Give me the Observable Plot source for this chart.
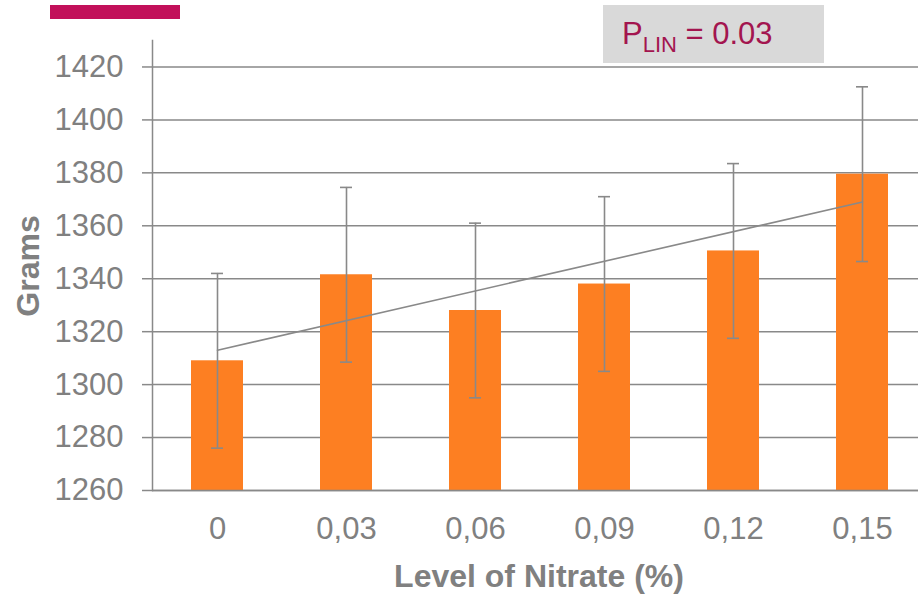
<!DOCTYPE html>
<html>
<head>
<meta charset="utf-8">
<script src="https://cdn.jsdelivr.net/npm/d3@7"></script>
<script src="https://cdn.jsdelivr.net/npm/@observablehq/plot@0.6"></script>
<style>
  html, body { margin: 0; padding: 0; background: #fff; }
  #wrap { position: relative; width: 918px; height: 594px; font-family: "Liberation Sans", Arial, sans-serif; overflow: hidden; }
  #chart { position: absolute; left: 0; top: 0; width: 926px; }
  #chart svg { max-width: none !important; }
  #accent { position: absolute; left: 50px; top: 5px; width: 130px; height: 14px; background: #c2105a; }
  #plin { position: absolute; left: 603px; top: 5px; width: 221px; height: 58px; background: #d9d9d9; color: #a3154f; font-size: 31px; line-height: 58px; box-sizing: border-box; padding-left: 19px; }
  #plin sub { font-size: 22px; vertical-align: -8px; line-height: 0; }
  .lab { position: absolute; color: #808080; font-weight: bold; font-size: 32px; white-space: nowrap; }
  #xlab { left: 0; width: 1078px; top: 558px; text-align: center; }
  #ylab { left: 28px; top: 266px; transform: translate(-50%, -50%) rotate(-90deg); }
</style>
</head>
<body>
<div id="wrap">
  <div id="chart"></div>
  <div id="accent"></div>
  <div id="plin">P<sub>LIN</sub> = 0.03</div>
  <div class="lab" id="ylab">Grams</div>
  <div class="lab" id="xlab">Level of Nitrate (%)</div>
</div>
<script>
const levels = ["0", "0,03", "0,06", "0,09", "0,12", "0,15"];
const grams = [1309, 1341.5, 1328, 1338, 1350.5, 1379.5];
const errors = [33, 33, 33, 33, 33, 33];
const trendLevels = ["0", "0,15"];
const trendGrams = [1313, 1369];
const yTicks = [1260, 1280, 1300, 1320, 1340, 1360, 1380, 1400, 1420];
const yDomain = [1260, 1430];

const data = levels.map((l, i) => ({level: l, g: grams[i], lo: grams[i] - errors[i], hi: grams[i] + errors[i]}));
const trend = trendLevels.map((l, i) => ({level: l, g: trendGrams[i]}));

const gray = "#898989";

const plot = Plot.plot({
  width: 926,
  height: 594,
  marginLeft: 152,
  marginRight: 0,
  marginTop: 40,
  marginBottom: 104,
  style: {fontFamily: "Liberation Sans, Arial, sans-serif", background: "#fff", maxWidth: "none"},
  x: {domain: levels, paddingInner: 0.6, paddingOuter: 0.3, label: null},
  y: {domain: yDomain, label: null},
  marks: [
    Plot.gridY(yTicks, {stroke: gray, strokeOpacity: 1, strokeWidth: 1.5}),
    Plot.axisY(yTicks, {tickSize: 10, tickPadding: 19, stroke: gray, strokeWidth: 1.5, fill: "#808080", fontSize: 31, label: null, tickFormat: d => String(d)}),
    Plot.axisX({tickSize: 0, tickPadding: 26, fill: "#808080", fontSize: 31, label: null}),
    Plot.barY(data, {x: "level", y1: () => yDomain[0], y2: "g", fill: "#fd7f22"}),
    Plot.ruleY([yDomain[0]], {stroke: gray, strokeWidth: 1.5}),
    Plot.frame({anchor: "left", stroke: gray, strokeWidth: 1.5}),
    Plot.line(trend, {x: "level", y: "g", stroke: gray, strokeWidth: 1.6}),
    Plot.ruleX(data, {x: "level", y1: "lo", y2: "hi", stroke: gray, strokeWidth: 1.6}),
    Plot.tickY(data, {x: "level", y: "lo", stroke: gray, strokeWidth: 1.6, insetLeft: 20, insetRight: 20}),
    Plot.tickY(data, {x: "level", y: "hi", stroke: gray, strokeWidth: 1.6, insetLeft: 20, insetRight: 20})
  ]
});
document.getElementById("chart").appendChild(plot);
</script>
</body>
</html>
